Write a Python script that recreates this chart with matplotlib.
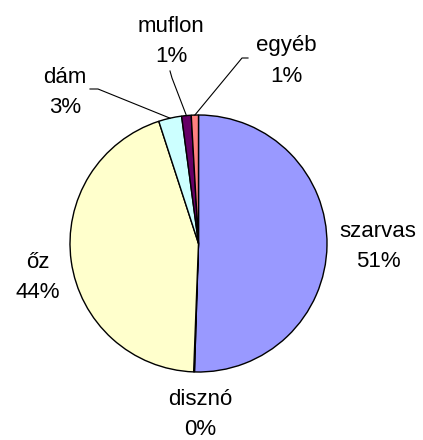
import matplotlib
matplotlib.use("Agg")
import matplotlib.pyplot as plt
import numpy as np

categories = ["szarvas", "disznó", "őz", "dám", "muflon", "egyéb"]
values = [50.5, 0.1, 44.4, 2.9, 1.2, 0.9]
pct_labels = ["51%", "0%", "44%", "3%", "1%", "1%"]
colors = ["#9999FF", "#993366", "#FFFFCC", "#CCFFFF", "#660066", "#FF8080"]

W, H = 423, 440
fig = plt.figure(figsize=(W / 100, H / 100), dpi=100)
ax = fig.add_axes([0, 0, 1, 1])

cx, cy, r = 198.5, H - 243.5, 128.5
wedges, _ = ax.pie(values, colors=colors, startangle=90, counterclock=False,
                   center=(cx, cy), radius=r, frame=True,
                   wedgeprops=dict(edgecolor="black", linewidth=1.0))
ax.set_xlim(0, W)
ax.set_ylim(0, H)
ax.set_aspect("equal")
ax.axis("off")

font = dict(family="Liberation Sans", fontsize=16, color="black",
            ha="center", va="baseline")

# label anchor: center x, baseline of first line, baseline of second line (pixels from top)
label_pos = {
    "szarvas": (378, 237, 267),
    "disznó": (200, 405, 435),
    "őz": (38, 268, 298),
    "dám": (65, 83, 113),
    "muflon": (171, 32, 62),
    "egyéb": (286, 51, 82),
}
# leader line elbows (pixel coords, from top)
leaders = {
    "dám": [(90, 89), (98, 89)],
    "muflon": [(170, 71), (172, 78)],
    "egyéb": [(248, 58), (242, 58)],
}

for i, name in enumerate(categories):
    x, y1, y2 = label_pos[name]
    ax.text(x, H - y1, name, **font)
    ax.text(x, H - y2, pct_labels[i], **font)
    if name in leaders:
        w = wedges[i]
        mid = np.deg2rad((w.theta1 + w.theta2) / 2)
        ex = cx + r * np.cos(mid)
        ey = cy + r * np.sin(mid)
        pts = leaders[name]
        xs = [p[0] for p in pts] + [ex]
        ys = [H - p[1] for p in pts] + [ey]
        ax.plot(xs, ys, color="black", linewidth=0.8)

fig.savefig("out.png", dpi=100)
